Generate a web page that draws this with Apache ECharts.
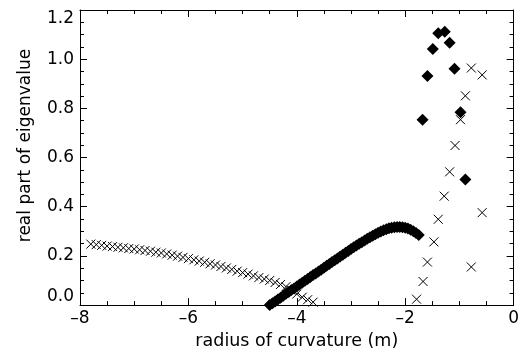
<!DOCTYPE html>
<html>
<head>
<meta charset="utf-8">
<script src="https://cdn.jsdelivr.net/npm/echarts@6/dist/echarts.min.js"></script>
<style>
  html, body { margin: 0; padding: 0; background: #fff; }
  #chart { width: 522px; height: 355px; }
</style>
</head>
<body>
<div id="chart"></div>
<script>
// crosses: long branch on the left
const crossLeftX = [
  -7.8, -7.7, -7.6, -7.5, -7.4, -7.3, -7.2, -7.1, -7.0, -6.9,
  -6.8, -6.7, -6.6, -6.5, -6.4, -6.3, -6.2, -6.1, -6.0, -5.9,
  -5.8, -5.7, -5.6, -5.5, -5.4, -5.3, -5.2, -5.1, -5.0, -4.9,
  -4.8, -4.7, -4.6, -4.5, -4.4, -4.3, -4.2, -4.1, -4.0, -3.9,
  -3.8, -3.7
];
const crossLeftY = [
  0.248, 0.246, 0.243, 0.240, 0.238, 0.235, 0.233, 0.230, 0.228, 0.225,
  0.222, 0.219, 0.215, 0.212, 0.208, 0.203, 0.199, 0.194, 0.189, 0.184,
  0.179, 0.174, 0.168, 0.163, 0.157, 0.151, 0.145, 0.138, 0.132, 0.126,
  0.119, 0.112, 0.106, 0.100, 0.092, 0.084, 0.075, 0.061, 0.045, 0.032,
  0.022, 0.012
];
// crosses: scattered points on the right
const crossRightX = [-1.79, -1.67, -1.59, -1.47, -1.39, -1.28, -1.18, -1.08, -0.98, -0.89, -0.78, -0.58, -0.58, -0.78];
const crossRightY = [0.024, 0.096, 0.175, 0.257, 0.349, 0.443, 0.542, 0.649, 0.754, 0.851, 0.964, 0.936, 0.376, 0.155];

// diamonds: dense curve
const diamondCurveX = [
  -4.50, -4.45, -4.40, -4.35, -4.30, -4.25, -4.20, -4.15, -4.10, -4.05,
  -4.00, -3.95, -3.90, -3.85, -3.80, -3.75, -3.70, -3.65, -3.60, -3.55,
  -3.50, -3.45, -3.40, -3.35, -3.30, -3.25, -3.20, -3.15, -3.10, -3.05,
  -3.00, -2.95, -2.90, -2.85, -2.80, -2.75, -2.70, -2.65, -2.60, -2.55,
  -2.50, -2.45, -2.40, -2.35, -2.30, -2.25, -2.20, -2.15, -2.10, -2.05,
  -2.00, -1.95, -1.90, -1.85, -1.80, -1.75
];
const diamondCurveY = [
  0.000, 0.008, 0.015, 0.023, 0.030, 0.038, 0.046, 0.053, 0.061, 0.068,
  0.076, 0.084, 0.091, 0.099, 0.106, 0.114, 0.122, 0.129, 0.137, 0.144,
  0.152, 0.160, 0.167, 0.175, 0.182, 0.190, 0.198, 0.205, 0.213, 0.220,
  0.228, 0.235, 0.242, 0.249, 0.256, 0.263, 0.270, 0.276, 0.282, 0.288,
  0.294, 0.299, 0.304, 0.308, 0.312, 0.315, 0.317, 0.318, 0.318, 0.317,
  0.315, 0.311, 0.306, 0.300, 0.293, 0.285
];
// diamonds: scattered points on the right
const diamondRightX = [-1.68, -1.59, -1.49, -1.39, -1.27, -1.18, -1.09, -0.98, -0.89];
const diamondRightY = [0.754, 0.932, 1.041, 1.105, 1.112, 1.067, 0.961, 0.784, 0.511];

const xTicks = { min: -8, max: 0, interval: 2 };
const yTicks = { min: 0, max: 1.2, interval: 0.2 };

const zip = (xs, ys) => xs.map((x, i) => [x, ys[i]]);
const crossData = zip(crossLeftX, crossLeftY).concat(zip(crossRightX, crossRightY));
const diamondData = zip(diamondCurveX, diamondCurveY).concat(zip(diamondRightX, diamondRightY));

const font = "DejaVu Sans";
const lineStyle = { color: "#000", width: 1 };

function axisBase(extra) {
  return Object.assign({
    type: "value",
    axisLine: { show: true, onZero: false, lineStyle },
    axisTick: { show: true, inside: true, length: 7, lineStyle },
    minorTick: { show: true, splitNumber: 4, length: 4, lineStyle },
    splitLine: { show: false },
  }, extra);
}

const chart = echarts.init(document.getElementById("chart"), null, { renderer: "canvas" });
chart.setOption({
  animation: false,
  backgroundColor: "#fff",
  grid: { left: 80, right: 4, top: 10, bottom: 49 },
  xAxis: [
    axisBase({
      position: "bottom",
      min: xTicks.min, max: xTicks.max, interval: xTicks.interval,
      name: "radius of curvature (m)",
      nameLocation: "middle",
      nameGap: 26,
      nameTextStyle: { fontFamily: font, fontSize: 17.5, color: "#000" },
      axisLabel: {
        margin: 5, color: "#000", fontFamily: font, fontSize: 17,
        formatter: (v) => String(v).replace("-", "\u2013"),
      },
    }),
    axisBase({
      position: "top",
      min: xTicks.min, max: xTicks.max, interval: xTicks.interval,
      axisLabel: { show: false },
    }),
  ],
  yAxis: [
    axisBase({
      position: "left",
      min: yTicks.min, max: yTicks.max, interval: yTicks.interval,
      name: "real part of eigenvalue",
      nameLocation: "middle",
      nameGap: 46,
      nameTextStyle: { fontFamily: font, fontSize: 17, color: "#000", padding: [0, 0, 0, 24] },
      axisLabel: {
        margin: 6, color: "#000", fontFamily: font, fontSize: 17,
        formatter: (v) => v.toFixed(1),
        verticalAlignMinLabel: "bottom",
        verticalAlignMaxLabel: "top",
      },
    }),
    axisBase({
      position: "right",
      min: yTicks.min, max: yTicks.max, interval: yTicks.interval,
      axisLabel: { show: false },
    }),
  ],
  series: [
    {
      type: "scatter",
      data: crossData,
      symbol: "path://M0,0L10,10M10,0L0,10",
      symbolSize: 9,
      itemStyle: { color: "transparent", borderColor: "#000", borderWidth: 1, opacity: 1 },
      clip: true,
    },
    {
      type: "scatter",
      data: diamondData,
      symbol: "diamond",
      symbolSize: 12,
      itemStyle: { color: "#000", opacity: 1 },
      clip: true,
    },
  ],
});
</script>
</body>
</html>
